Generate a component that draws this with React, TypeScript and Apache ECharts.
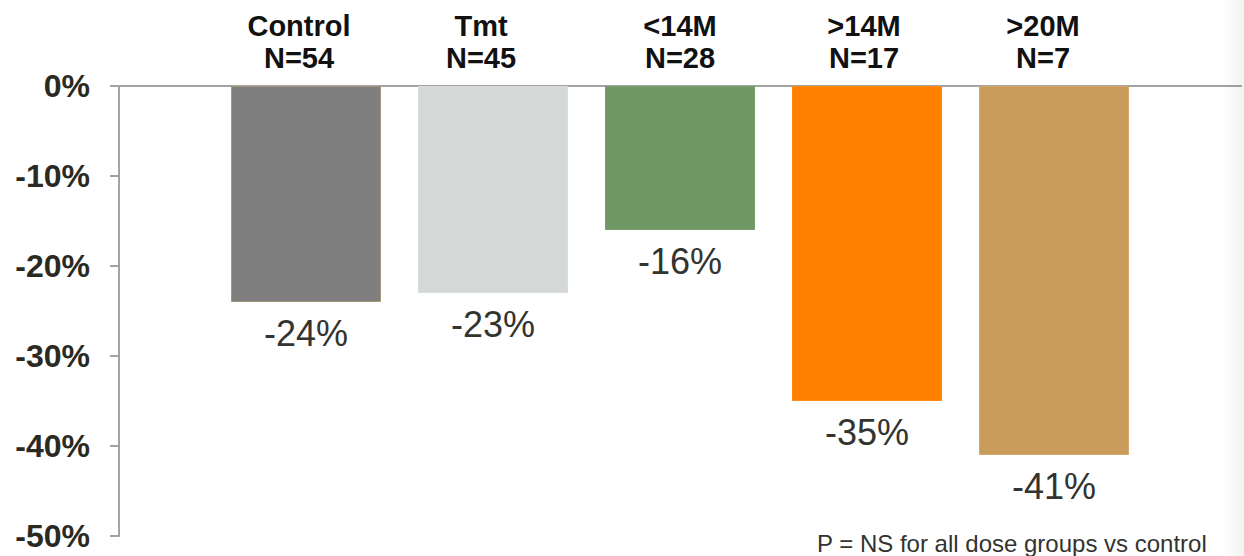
import React, { useEffect, useRef } from "react";
import * as echarts from "echarts";

// Groups along the top axis, their sizes, and the mean change (%) for each
const groups = ["Control", "Tmt", "<14M", ">14M", ">20M"];
const groupSizes = [54, 45, 28, 17, 7];
const changes = [-24, -23, -16, -35, -41];
const barColors = ["#7f7f7f", "#d4d8d6", "#6f9764", "#ff7f00", "#c99c5b"];
const barBorders = ["#a39877", "#d9dcda", "#789f6c", "#ff8a14", "#d2a869"];

// Y axis range and step (percent)
const yMin = -50;
const yMax = 0;
const yStep = 10;

const footnote = "P = NS for all dose groups vs control";

const FONT = "'Liberation Sans', Arial, Helvetica, sans-serif";

// small leftward nudges of the group headers, in px
const headerNudge = [7, 12, 0, 3, 11];

export default function App() {
  const ref = useRef<HTMLDivElement>(null);

  useEffect(() => {
    if (!ref.current) return;
    const chart = echarts.init(ref.current, null, { renderer: "svg" });

    // one empty slot on each side keeps the bars spaced off the y axis
    const axisLabels = ["", ...groups.map((g, i) => `${i}|${g}\nN=${groupSizes[i]}`), ""];
    const barData = [
      null,
      ...changes.map((v, i) => ({
        value: v,
        itemStyle: {
          color: barColors[i],
          borderColor: barBorders[i],
          borderWidth: 1,
        },
      })),
      null,
    ];

    const rich: Record<string, any> = {};
    headerNudge.forEach((n, i) => {
      rich[`h${i}`] = {
        color: "#111111",
        fontFamily: FONT,
        fontWeight: "bold",
        fontSize: 29,
        lineHeight: 32,
        padding: [0, n * 2, 0, 0],
      };
    });

    chart.setOption({
      animation: false,
      backgroundColor: "#ffffff",
      grid: { left: 119, right: 3, top: 86, bottom: 20, containLabel: false },
      xAxis: {
        type: "category",
        position: "top",
        boundaryGap: false,
        data: axisLabels,
        axisLine: { show: true, lineStyle: { color: "#a3a3a3", width: 2 } },
        axisTick: { show: false },
        splitLine: { show: false },
        axisLabel: {
          interval: 0,
          margin: 12,
          color: "#111111",
          fontFamily: FONT,
          fontWeight: "bold",
          fontSize: 29,
          lineHeight: 32,
          formatter: (v: string) => {
            if (!v) return "";
            const [idx, text] = v.split("|");
            return text
              .split("\n")
              .map((line) => `{h${idx}|${line}}`)
              .join("\n");
          },
          rich,
        },
      },
      yAxis: {
        type: "value",
        min: yMin,
        max: yMax,
        interval: yStep,
        axisLine: { show: true, lineStyle: { color: "#a3a3a3", width: 2 } },
        axisTick: { show: true, length: 9, inside: false, lineStyle: { color: "#a3a3a3", width: 2 } },
        splitLine: { show: false },
        axisLabel: {
          margin: 29,
          color: "#2b2a22",
          fontFamily: FONT,
          fontWeight: "bold",
          fontSize: 32,
          formatter: (v: number) => `${v}%`,
        },
      },
      series: [
        {
          type: "bar",
          data: barData,
          barWidth: 150,
          label: {
            show: true,
            position: "bottom",
            distance: 13,
            color: "#333330",
            fontFamily: FONT,
            fontSize: 36,
            formatter: (p: any) => `${p.value}%`,
          },
        },
      ],
      graphic: [
        {
          type: "rect",
          right: 0,
          top: 0,
          z: 100,
          silent: true,
          shape: { width: 24, height: 556 },
          style: {
            fill: new echarts.graphic.LinearGradient(0, 0, 1, 0, [
              { offset: 0, color: "rgba(0,0,0,0)" },
              { offset: 1, color: "rgba(0,0,0,0.05)" },
            ]),
          },
        },
        {
          type: "text",
          left: 817,
          top: 531,
          style: {
            text: footnote,
            fill: "#333330",
            font: `24px ${FONT}`,
          },
        },
      ],
    });

    return () => chart.dispose();
  }, []);

  return (
    <div
      ref={ref}
      style={{ position: "fixed", left: 0, top: 0, width: 1244, height: 556 }}
    />
  );
}
